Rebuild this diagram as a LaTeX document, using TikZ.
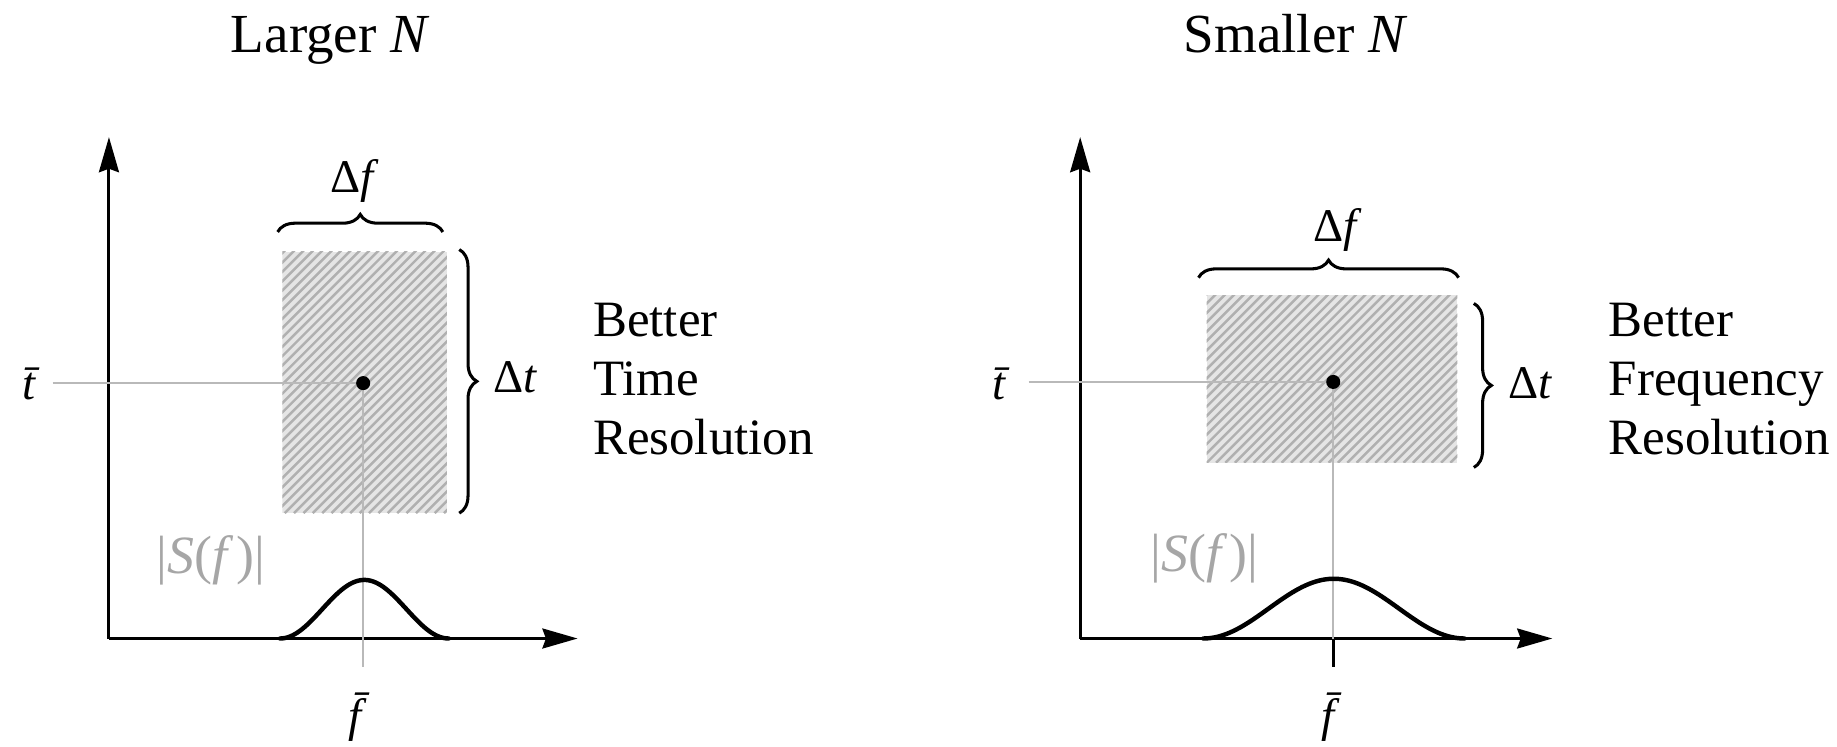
\documentclass[tikz,border=0pt]{standalone}
\usepackage{fontspec}
\setmainfont{Liberation Serif}
\usetikzlibrary{decorations.pathreplacing,arrows.meta}
\begin{document}
\begin{tikzpicture}[x=1pt,y=-1pt,
  axis/.style={line width=2.6pt,-{Stealth[length=30pt,width=17pt,inset=3pt]}},
  guide/.style={gray!55,line width=1.4pt},
  bump/.style={line width=3.8pt,line cap=round},
  brc/.style={decorate,decoration={brace,amplitude=15pt},line width=2.6pt},
  hline/.style={gray!62,line width=2.1pt},
  lbl/.style={font=\fontsize{40}{40}\selectfont,inner sep=0pt,anchor=base},
  txt/.style={font=\fontsize{43.5}{43.5}\selectfont,inner sep=0pt,anchor=base west},
  ttl/.style={font=\fontsize{47}{47}\selectfont,inner sep=0pt,anchor=base},
  slbl/.style={font=\fontsize{46}{46}\selectfont,inner sep=0pt,text=gray!70},
  hatchbg/.style={fill=gray!20}
]
\useasboundingbox (0,0) rectangle (1568,637);

% ---------------- left panel ----------------
\node[ttl] (titleL) at (282,45) {Larger \textit{N}};
\begin{scope}
  \clip (241,215) rectangle (381.5,438);
  \fill[hatchbg] (241,215) rectangle (381.5,438);
  \foreach \i in {0,8,...,385} \draw[hline] (\i+11,438) -- ++(230,-230);
\end{scope}
\coordinate (oL) at (93,545);
\coordinate (yL) at (93,117);
\coordinate (xL) at (493,545);
\draw[axis] (oL) -- (yL);
\draw[axis] (oL) -- (xL);
\node[lbl] (tL) at (30,341) {\textit{\=t}};
\coordinate (dL) at (310,327);
\coordinate (gL1) at (45,327);
\coordinate (gL2) at (310,569);
\draw[guide] (gL1) -- (dL);
\draw[guide] (dL) -- (gL2);
\fill (dL) circle (6pt);
\draw[bump] plot[domain=239:383,samples=80] (\x,{545-25*(1+cos(2.5*(\x-311)))});
\node[lbl] (fL) at (308,624) {\textit{\=f}};
\node[slbl] (sL) at (180,478) {|\textit{S}(\textit{f}\kern2pt)|};
\coordinate (bLa) at (237,198);
\coordinate (bLb) at (378,198);
\draw[brc] (bLa) -- (bLb);
\node[lbl] (dfL) at (303,164) {Δ\textit{f}};
\coordinate (bLc) at (392,213);
\coordinate (bLd) at (392,438);
\draw[brc] (bLc) -- (bLd);
\node[lbl] (dtL) at (440,335) {Δ\textit{t}};
\node[txt] (l1) at (506,287) {Better};
\node[txt] (l2) at (506,338) {Time};
\node[txt] (l3) at (506,388) {Resolution};

% ---------------- right panel ----------------
\node[ttl] (titleR) at (1106,45) {Smaller \textit{N}};
\begin{scope}
  \clip (1030,252) rectangle (1244,395);
  \fill[hatchbg] (1030,252) rectangle (1244,395);
  \foreach \i in {0,8,...,385} \draw[hline] (\i+870,395) -- ++(160,-160);
\end{scope}
\coordinate (oR) at (922,545);
\coordinate (yR) at (922,117);
\coordinate (xR) at (1325,545);
\draw[axis] (oR) -- (yR);
\draw[axis] (oR) -- (xR);
\node[lbl] (tR) at (858,341) {\textit{\=t}};
\coordinate (dR) at (1138,326);
\coordinate (gR1) at (878,326);
\coordinate (gR2) at (1138,545);
\coordinate (gR3) at (1138,569);
\draw[guide] (gR1) -- (dR);
\draw[guide] (dR) -- (gR2);
\fill (dR) circle (6pt);
\draw[line width=2.4pt] (gR2) -- (gR3);
\draw[bump] plot[domain=1027:1250,samples=80] (\x,{545-25.5*(1+cos(1.6143*(\x-1138.5)))});
\node[lbl] (fR) at (1138,624) {\textit{\=f}};
\node[slbl] (sR) at (1028,477) {|\textit{S}(\textit{f}\kern2pt)|};
\coordinate (bRa) at (1023,237);
\coordinate (bRb) at (1245,237);
\draw[brc] (bRa) -- (bRb);
\node[lbl] (dfR) at (1142,206) {Δ\textit{f}};
\coordinate (bRc) at (1258,259);
\coordinate (bRd) at (1258,399);
\draw[brc] (bRc) -- (bRd);
\node[lbl] (dtR) at (1306,340) {Δ\textit{t}};
\node[txt] (r1) at (1373,287) {Better};
\node[txt] (r2) at (1373,338) {Frequency};
\node[txt] (r3) at (1373,388) {Resolution};
\end{tikzpicture}
\end{document}
